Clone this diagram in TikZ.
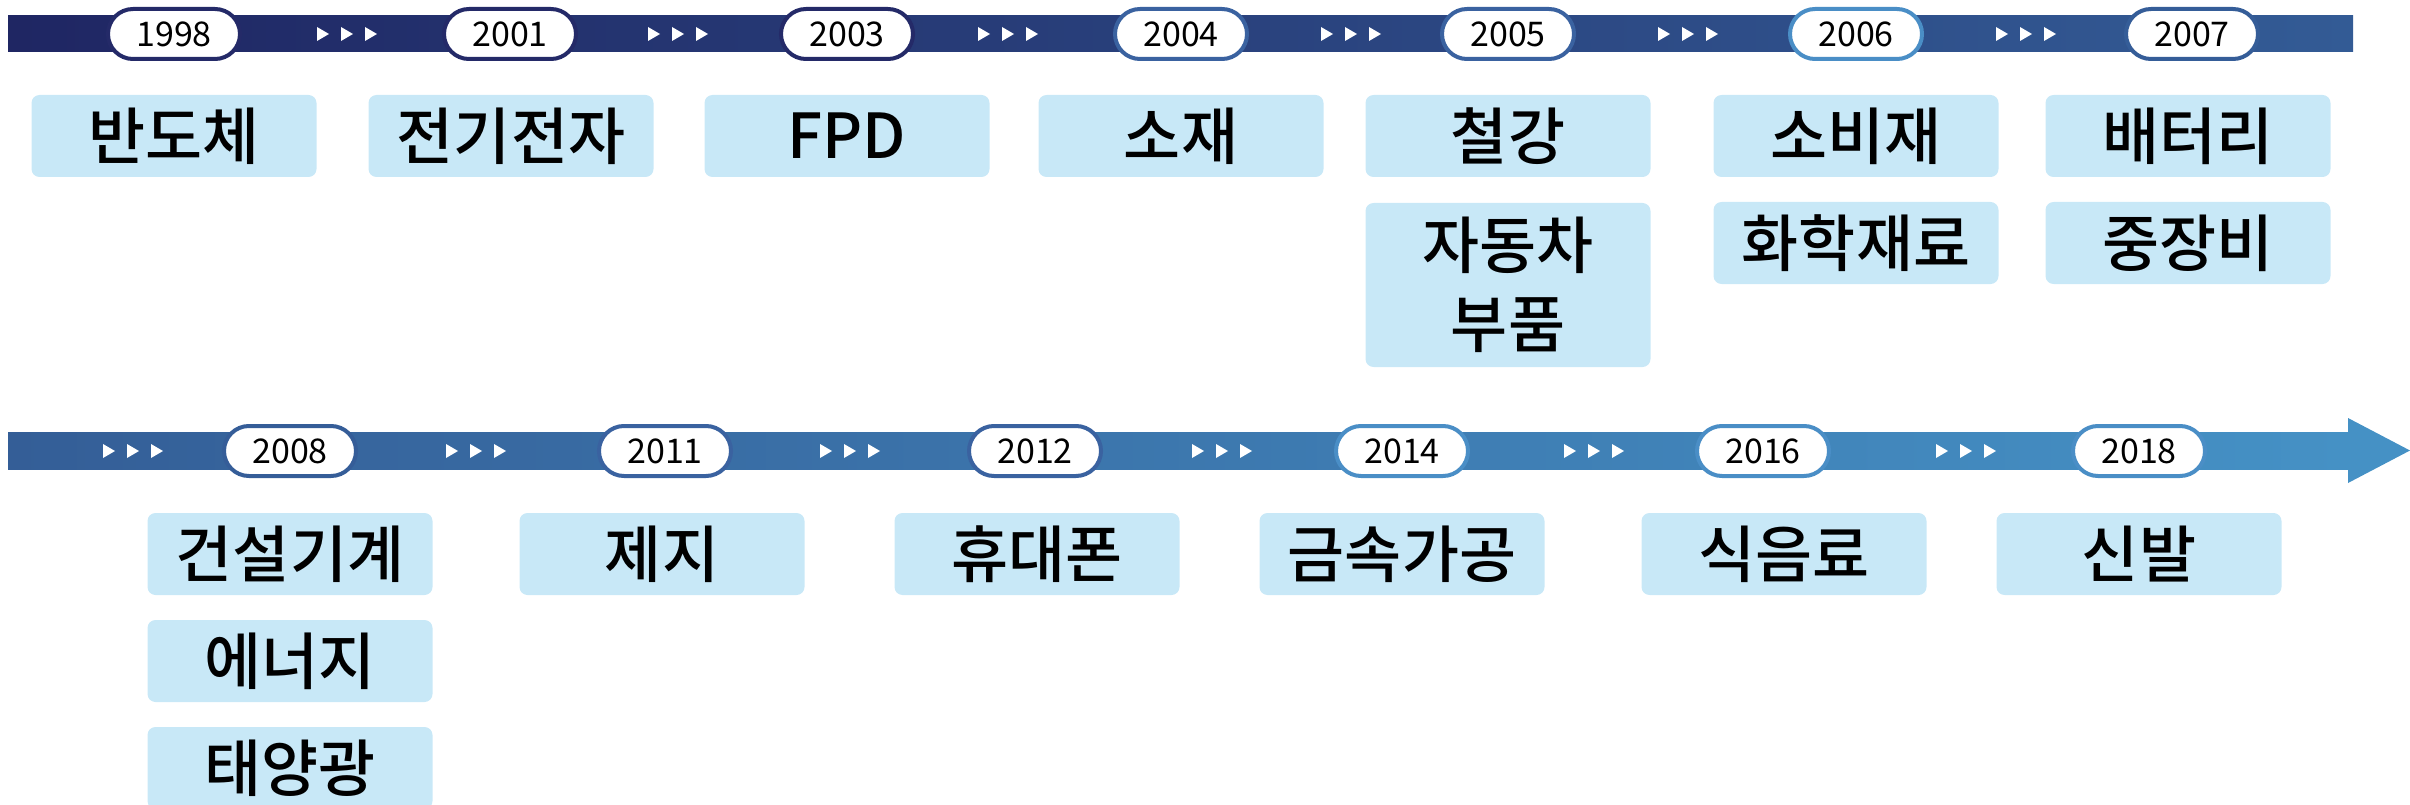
\documentclass[tikz,border=0pt]{standalone}
\usepackage{fontspec}
\setmainfont{Noto Sans CJK KR}
\newfontfamily\medfont{Noto Sans CJK KR Medium}
\definecolor{topL}{RGB}{31,38,99}
\definecolor{topR}{RGB}{51,91,149}
\definecolor{botL}{RGB}{52,94,151}
\definecolor{botR}{RGB}{69,145,197}
\definecolor{boxfill}{RGB}{200,232,247}
\definecolor{pA}{RGB}{36,42,104}
\definecolor{pB}{RGB}{58,98,160}
\definecolor{pC}{RGB}{74,142,198}
\definecolor{pD}{RGB}{53,93,152}
\newcommand\yearfont{\fontsize{34pt}{34pt}\selectfont}
\newcommand\boxfont{\medfont\fontsize{62pt}{79pt}\selectfont}
\tikzset{
  pill/.style={draw=#1, line width=4pt, fill=white, rounded corners=25pt,
    minimum width=132pt, minimum height=50pt, inner sep=0pt, font=\yearfont},
  catbox/.style={fill=boxfill, rounded corners=8pt, minimum width=285pt,
    minimum height=82pt, inner sep=0pt, font=\boxfont, align=center},
  tri3/.pic={\foreach \i in {0,24,48}{\fill[white] (\i-30,-7) -- (\i-18,0) -- (\i-30,7) -- cycle;}}
}
\begin{document}
\begin{tikzpicture}[x=1pt,y=-1pt]
\useasboundingbox (0,0) rectangle (2410,805);
\clip (0,0) rectangle (2410,805);
% bars
\shade[left color=topL,right color=topR] (8,16) rectangle (2353,52);
\shade[left color=botL,right color=botR] (8,432) rectangle (2349,469);
\fill[botR] (2348,418) -- (2410,450.5) -- (2348,483) -- cycle;
% triangles
\foreach \x in {347,678,1008,1351,1688,2026} \pic at (\x,34) {tri3};
\foreach \x in {133,476,850,1222,1594,1966} \pic at (\x,451) {tri3};
% top pills
\node[pill=pA] (p1998) at (174,34) {1998};
\node[pill=pA] (p2001) at (510,34) {2001};
\node[pill=pA] (p2003) at (847,34) {2003};
\node[pill=pB] (p2004) at (1181,34) {2004};
\node[pill=pB] (p2005) at (1508,34) {2005};
\node[pill=pC] (p2006) at (1856,34) {2006};
\node[pill=pD] (p2007) at (2192,34) {2007};
% bottom pills
\node[pill=pD] (p2008) at (290,451) {2008};
\node[pill=pB] (p2011) at (665,451) {2011};
\node[pill=pB] (p2012) at (1035,451) {2012};
\node[pill=pC] (p2014) at (1402,451) {2014};
\node[pill=pC] (p2016) at (1763,451) {2016};
\node[pill=pC] (p2018) at (2139,451) {2018};
% top boxes
\node[catbox] (b1) at (174,136) {반도체};
\node[catbox] (b2) at (511,136) {전기전자};
\node[catbox] (b3) at (847,136) {FPD};
\node[catbox] (b4) at (1181,136) {소재};
\node[catbox] (b5) at (1508,136) {철강};
\node[catbox, minimum height=164pt] (b5b) at (1508,285) {자동차\\부품};
\node[catbox] (b6) at (1856,136) {소비재};
\node[catbox] (b6b) at (1856,243) {화학재료};
\node[catbox] (b7) at (2188,136) {배터리};
\node[catbox] (b7b) at (2188,243) {중장비};
% bottom boxes
\node[catbox] (c1) at (290,554) {건설기계};
\node[catbox] (c1b) at (290,661) {에너지};
\node[catbox] (c1c) at (290,768) {태양광};
\node[catbox] (c2) at (662,554) {제지};
\node[catbox] (c3) at (1037,554) {휴대폰};
\node[catbox] (c4) at (1402,554) {금속가공};
\node[catbox] (c5) at (1784,554) {식음료};
\node[catbox] (c6) at (2139,554) {신발};
\end{tikzpicture}
\end{document}
